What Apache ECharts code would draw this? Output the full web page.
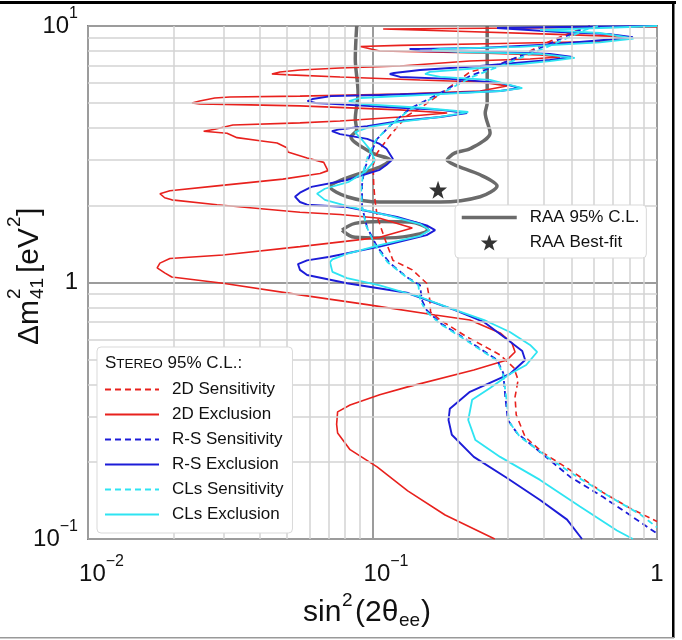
<!DOCTYPE html>
<html>
<head>
<meta charset="utf-8">
<script src="https://cdn.jsdelivr.net/npm/echarts@6/dist/echarts.min.js"></script>
<style>
html, body { margin: 0; padding: 0; background: #fff; }
#chart { width: 682px; height: 640px; }
</style>
</head>
<body>
<div id="chart"></div>
<script>
// minor grid positions (log decades 2..9)
var xMinor = [0.02, 0.03, 0.04, 0.05, 0.06, 0.07, 0.08, 0.09, 0.2, 0.3, 0.4, 0.5, 0.6, 0.7, 0.8, 0.9];
var yMinor = [0.2, 0.3, 0.4, 0.5, 0.6, 0.7, 0.8, 0.9, 2, 3, 4, 5, 6, 7, 8, 9];

// RAA 95% C.L. contour (two pieces) and best fit, [sin^2, dm^2]
var raaOuter = [[0.088,10],[0.087,7.44],[0.089,5.48],[0.087,4.34],[0.088,3.93],[0.084,3.70],[0.0997,3.20],[0.115,3.00],[0.106,2.82],[0.0814,2.56],[0.0709,2.36],[0.0814,2.16],[0.106,2.06],[0.173,2.06],[0.239,2.16],[0.274,2.38],[0.239,2.63],[0.195,2.87],[0.183,3.00],[0.195,3.20],[0.220,3.32],[0.259,3.83],[0.249,4.58],[0.253,5.01],[0.253,7.37],[0.253,10]];
var raaInner = [[0.0782,1.60],[0.0868,1.70],[0.106,1.73],[0.135,1.72],[0.156,1.61],[0.135,1.52],[0.106,1.49],[0.0868,1.50],[0.0782,1.60]];
var raaBest = [[0.17, 2.30]];

// STEREO 95% C.L. curves
var sens2D = [[0.581,10],[0.494,9.39],[0.411,8.63],[0.330,7.64],[0.281,7.11],[0.220,6.62],[0.183,5.68],[0.151,4.88],[0.132,4.46],[0.115,3.73],[0.1038,3.20],[0.1005,2.87],[0.101,2.40],[0.102,2.10],[0.104,1.80],[0.110,1.50],[0.118,1.22],[0.138,1.12],[0.155,0.993],[0.159,0.855],[0.160,0.767],[0.173,0.714],[0.215,0.613],[0.281,0.522],[0.314,0.465],[0.325,0.417],[0.317,0.358],[0.320,0.305],[0.344,0.250],[0.397,0.217],[0.494,0.186],[0.645,0.152],[0.803,0.132],[1.0,0.117]];
var excl2D = [[1.0,9.91],[0.330,9.82],[0.109,9.74],[0.187,9.56],[0.420,9.30],[0.683,9.13],[0.784,8.94],[0.630,8.70],[0.281,8.55],[0.125,8.40],[0.0905,8.32],[0.106,7.99],[0.239,7.85],[0.388,7.71],[0.456,7.57],[0.358,7.44],[0.220,7.30],[0.125,6.98],[0.0769,6.86],[0.0556,6.74],[0.0473,6.62],[0.0443,6.50],[0.0512,6.45],[0.0769,6.33],[0.147,6.16],[0.239,6.05],[0.297,5.84],[0.239,5.58],[0.125,5.43],[0.0556,5.33],[0.0315,5.29],[0.0279,5.24],[0.0247,5.10],[0.0232,5.01],[0.0247,4.97],[0.0556,4.88],[0.125,4.71],[0.183,4.58],[0.125,4.42],[0.0769,4.26],[0.0556,4.19],[0.0323,4.11],[0.0279,3.96],[0.0255,3.89],[0.0308,3.82],[0.0334,3.67],[0.0402,3.57],[0.0462,3.50],[0.0500,3.35],[0.0504,3.23],[0.0589,3.06],[0.0674,2.94],[0.0697,2.73],[0.0654,2.66],[0.0484,2.53],[0.0284,2.38],[0.0194,2.28],[0.0179,2.22],[0.0186,2.14],[0.0197,2.10],[0.0284,2.01],[0.0556,1.88],[0.0769,1.84],[0.106,1.78],[0.138,1.63],[0.106,1.50],[0.0556,1.38],[0.0298,1.28],[0.0194,1.24],[0.0179,1.19],[0.0175,1.14],[0.0186,1.09],[0.0197,1.05],[0.0298,0.993],[0.0556,0.895],[0.0958,0.820],[0.166,0.747],[0.220,0.714],[0.281,0.636],[0.309,0.581],[0.317,0.536],[0.297,0.499],[0.227,0.456],[0.132,0.391],[0.106,0.365],[0.0834,0.333],[0.0754,0.313],[0.0748,0.280],[0.0754,0.259],[0.0834,0.223],[0.1038,0.191],[0.133,0.154],[0.180,0.124],[0.269,0.100]];
var sensRS = [[0.581,10],[0.536,9.65],[0.388,8.21],[0.288,7.18],[0.220,6.38],[0.173,5.48],[0.135,4.75],[0.118,4.19],[0.1038,3.63],[0.0981,3.15],[0.0935,2.75],[0.0919,2.40],[0.0919,1.97],[0.0957,1.64],[0.1038,1.38],[0.115,1.19],[0.132,1.05],[0.147,0.975],[0.149,0.855],[0.155,0.781],[0.173,0.695],[0.215,0.597],[0.274,0.499],[0.288,0.444],[0.293,0.358],[0.299,0.291],[0.322,0.259],[0.379,0.223],[0.494,0.175],[0.645,0.146],[0.803,0.124],[1.0,0.105]];
var exclRS = [[1.0,10],[0.456,9.91],[0.274,9.82],[0.456,9.47],[0.683,9.30],[0.823,9.04],[0.683,8.86],[0.420,8.48],[0.239,8.21],[0.147,8.14],[0.135,8.14],[0.147,7.99],[0.281,7.92],[0.420,7.78],[0.505,7.57],[0.420,7.37],[0.239,6.98],[0.147,6.74],[0.119,6.56],[0.115,6.50],[0.125,6.33],[0.187,6.22],[0.281,6.00],[0.330,5.73],[0.281,5.58],[0.187,5.48],[0.106,5.38],[0.0716,5.33],[0.0615,5.19],[0.0591,5.10],[0.0630,5.01],[0.0716,4.97],[0.125,4.80],[0.173,4.71],[0.215,4.58],[0.173,4.42],[0.125,4.26],[0.0958,4.07],[0.0769,3.96],[0.0720,3.89],[0.0769,3.79],[0.0958,3.63],[0.106,3.47],[0.112,3.32],[0.118,3.03],[0.113,2.90],[0.106,2.75],[0.0814,2.51],[0.0610,2.36],[0.0556,2.24],[0.0534,2.16],[0.0556,2.06],[0.0589,2.01],[0.0814,1.97],[0.122,1.80],[0.155,1.67],[0.166,1.60],[0.155,1.53],[0.106,1.38],[0.0709,1.26],[0.0589,1.22],[0.0547,1.18],[0.0556,1.12],[0.0589,1.07],[0.0814,0.993],[0.132,0.912],[0.195,0.781],[0.247,0.700],[0.293,0.608],[0.336,0.541],[0.344,0.499],[0.304,0.440],[0.220,0.375],[0.187,0.322],[0.185,0.291],[0.190,0.255],[0.227,0.209],[0.297,0.173],[0.388,0.142],[0.483,0.119],[0.545,0.100]];
var sensCLs = [[0.620,10],[0.558,9.65],[0.404,8.21],[0.293,7.11],[0.224,6.33],[0.173,5.43],[0.135,4.71],[0.117,4.15],[0.1029,3.60],[0.0965,3.12],[0.0927,2.70],[0.0913,2.30],[0.0919,1.97],[0.0949,1.67],[0.102,1.40],[0.113,1.20],[0.130,1.06],[0.145,0.975],[0.147,0.855],[0.154,0.774],[0.173,0.689],[0.215,0.592],[0.274,0.495],[0.288,0.436],[0.296,0.349],[0.302,0.286],[0.330,0.250],[0.411,0.209],[0.523,0.175],[0.683,0.146],[0.871,0.125],[1.0,0.111]];
var exclCLs = [[1.0,10],[0.630,9.82],[0.388,9.65],[0.630,9.39],[0.827,8.94],[0.630,8.63],[0.330,8.29],[0.173,8.14],[0.162,8.06],[0.203,7.92],[0.388,7.78],[0.514,7.51],[0.420,7.30],[0.239,6.86],[0.159,6.62],[0.153,6.50],[0.173,6.33],[0.259,6.16],[0.336,5.73],[0.281,5.58],[0.147,5.38],[0.0905,5.24],[0.0826,5.10],[0.0905,4.97],[0.147,4.80],[0.217,4.62],[0.173,4.42],[0.125,4.23],[0.0981,4.04],[0.0868,3.86],[0.0919,3.60],[0.0981,3.29],[0.102,3.00],[0.0942,2.70],[0.0826,2.47],[0.0680,2.32],[0.0638,2.22],[0.0680,2.10],[0.0834,1.97],[0.115,1.82],[0.147,1.69],[0.159,1.60],[0.147,1.52],[0.106,1.40],[0.0826,1.30],[0.0723,1.23],[0.0709,1.20],[0.0723,1.10],[0.0814,1.04],[0.106,0.975],[0.147,0.878],[0.183,0.802],[0.247,0.714],[0.304,0.641],[0.358,0.571],[0.379,0.536],[0.347,0.477],[0.304,0.440],[0.259,0.388],[0.224,0.349],[0.217,0.291],[0.230,0.243],[0.281,0.209],[0.388,0.170],[0.536,0.134],[0.723,0.108],[0.823,0.100]];

var FONT = "'Liberation Sans', Arial, Helvetica, sans-serif";
var RED = '#e8211d', BLUE = '#1c1cd8', CYAN = '#2ee4f2', GRAY = '#6b6b6b';
var STAR = 'path://M0,-10L2.35,-3.24L9.51,-3.09L3.8,1.24L5.88,8.09L0,4L-5.88,8.09L-3.8,1.24L-9.51,-3.09L-2.35,-3.24Z';

function expLabel(v) {
  var e = Math.round(Math.log(v) / Math.LN10);
  if (e === 0) return '{n|1}';
  return '{b|10}{s|' + (e < 0 ? '\u2212' + (-e) : e) + '}';
}

function curve(name, data, color, width, dashed) {
  return {
    type: 'line', name: name, data: data, symbol: 'none', showSymbol: false, z: 3,
    lineStyle: { color: color, width: width, type: dashed ? [6, 4] : 'solid' },
    itemStyle: { color: color }, silent: true
  };
}

// legend entries for line series: line only, no marker
function lineItem(name, width) {
  var it = { name: name, itemStyle: { opacity: 0 } };
  if (width) it.lineStyle = { width: width };
  return it;
}

var myChart = echarts.init(document.getElementById('chart'));

var option = {
  animation: false,
  backgroundColor: '#fff',
  grid: { left: 88, right: 25, top: 26, bottom: 101, show: true, borderColor: '#222', borderWidth: 1.5, backgroundColor: '#fff' },
  xAxis: {
    type: 'log', logBase: 10, min: 0.01, max: 1,
    axisLine: { show: false }, axisTick: { show: false },
    splitLine: { show: true, lineStyle: { color: '#9c9c9c', width: 2 } },
    axisLabel: {
      margin: 15, color: '#111', fontFamily: FONT, formatter: expLabel,
      rich: {
        b: { fontSize: 24, lineHeight: 40, padding: [0, 0, 0, 27], fontFamily: FONT, color: '#111' },
        n: { fontSize: 24, lineHeight: 40, fontFamily: FONT, color: '#111' },
        s: { fontSize: 16, lineHeight: 18, verticalAlign: 'top', fontFamily: FONT, color: '#111' }
      }
    }
  },
  yAxis: {
    type: 'log', logBase: 10, min: 0.1, max: 10,
    axisLine: { show: false }, axisTick: { show: false },
    splitLine: { show: true, lineStyle: { color: '#9c9c9c', width: 2 } },
    axisLabel: {
      margin: 10, color: '#111', fontFamily: FONT, formatter: expLabel,
      rich: {
        b: { fontSize: 24, lineHeight: 40, fontFamily: FONT, color: '#111' },
        n: { fontSize: 24, lineHeight: 40, fontFamily: FONT, color: '#111' },
        s: { fontSize: 16, lineHeight: 18, verticalAlign: 'top', fontFamily: FONT, color: '#111' }
      }
    }
  },
  legend: [{
    data: ['2D Sensitivity', '2D Exclusion', 'R-S Sensitivity', 'R-S Exclusion', 'CLs Sensitivity', 'CLs Exclusion'].map(function (n) { return lineItem(n); }),
    orient: 'vertical', left: 97, top: 347,
    itemWidth: 54, itemHeight: 14, itemGap: 8,
    padding: [34, 9, 10, 7],
    backgroundColor: '#fff', borderColor: '#d9d9d9', borderWidth: 1, borderRadius: 4,
    textStyle: { fontFamily: FONT, fontSize: 17, color: '#111', padding: [0, 0, 0, 8] },
    selectedMode: false, z: 10
  }, {
    data: [lineItem('RAA 95% C.L.', 3.5), { name: 'RAA Best-fit' }],
    orient: 'vertical', left: 455, top: 205,
    itemWidth: 55, itemHeight: 16, itemGap: 8,
    padding: [4, 7, 7, 5],
    backgroundColor: '#fff', borderColor: '#d9d9d9', borderWidth: 1, borderRadius: 4,
    textStyle: { fontFamily: FONT, fontSize: 17, color: '#111', padding: [0, 0, 0, 8] },
    selectedMode: false, z: 10
  }],
  graphic: [
    // outer frame of the figure
    { type: 'rect', shape: { x: 0, y: 1, width: 676, height: 3 }, style: { fill: '#000' }, silent: true },
    { type: 'rect', shape: { x: 672, y: 1, width: 2.5, height: 637 }, style: { fill: '#000' }, silent: true },
    { type: 'rect', shape: { x: 0, y: 637, width: 674, height: 1.5 }, style: { fill: '#999' }, silent: true },
    // legend title (small caps)
    { type: 'text', x: 105, y: 363, z: 100, silent: true,
      style: { text: '{a|S}{b|TEREO}{a| 95% C.L.:}', verticalAlign: 'middle',
        rich: { a: { fontSize: 17, fontFamily: FONT, fill: '#111', verticalAlign: 'bottom' },
                b: { fontSize: 13.5, fontFamily: FONT, fill: '#111', verticalAlign: 'bottom' } } } },
    // x axis name
    { type: 'group', silent: true, children: [
      { type: 'text', x: 303, y: 613, style: { text: 'sin', font: '30px ' + FONT, fill: '#111', verticalAlign: 'middle' } },
      { type: 'text', x: 342, y: 601, style: { text: '2', font: '19px ' + FONT, fill: '#111', verticalAlign: 'middle' } },
      { type: 'text', x: 355, y: 613, style: { text: '(2\u03b8', font: '30px ' + FONT, fill: '#111', verticalAlign: 'middle' } },
      { type: 'text', x: 399, y: 621, style: { text: 'ee', font: '19px ' + FONT, fill: '#111', verticalAlign: 'middle' } },
      { type: 'text', x: 421, y: 613, style: { text: ')', font: '30px ' + FONT, fill: '#111', verticalAlign: 'middle' } }
    ] },
    // y axis name, rotated
    { type: 'group', x: 30, y: 345, rotation: Math.PI / 2, silent: true, children: [
      { type: 'text', x: 0, y: 0, style: { text: '\u0394m', font: '30px ' + FONT, fill: '#111', verticalAlign: 'middle' } },
      { type: 'text', x: 46, y: -15, style: { text: '2', font: '19px ' + FONT, fill: '#111', verticalAlign: 'middle' } },
      { type: 'text', x: 46, y: 8, style: { text: '41', font: '19px ' + FONT, fill: '#111', verticalAlign: 'middle' } },
      { type: 'text', x: 72, y: 0, style: { text: '[eV', font: '30px ' + FONT, fill: '#111', verticalAlign: 'middle' } },
      { type: 'text', x: 118, y: -15, style: { text: '2', font: '19px ' + FONT, fill: '#111', verticalAlign: 'middle' } },
      { type: 'text', x: 129, y: 0, style: { text: ']', font: '30px ' + FONT, fill: '#111', verticalAlign: 'middle' } }
    ] }
  ],
  series: [
    {
      type: 'line', data: [], silent: true, z: 1,
      markLine: {
        silent: true, symbol: ['none', 'none'], label: { show: false }, animation: false,
        lineStyle: { color: '#d3d3d3', width: 1.5, type: 'solid' },
        emphasis: { disabled: true },
        data: xMinor.map(function (v) { return { xAxis: v }; }).concat(yMinor.map(function (v) { return { yAxis: v }; }))
      }
    },
    { type: 'line', name: 'RAA 95% C.L.', data: raaOuter, smooth: 0.3, symbol: 'none', showSymbol: false, z: 2, silent: true,
      lineStyle: { color: GRAY, width: 3.5 }, itemStyle: { color: GRAY } },
    { type: 'line', name: 'RAA 95% C.L.', data: raaInner, smooth: 0.4, symbol: 'none', showSymbol: false, z: 2, silent: true,
      lineStyle: { color: GRAY, width: 3.5 }, itemStyle: { color: GRAY } },
    curve('2D Sensitivity', sens2D, RED, 1.6, true),
    curve('2D Exclusion', excl2D, RED, 1.6, false),
    curve('R-S Sensitivity', sensRS, BLUE, 1.8, true),
    curve('R-S Exclusion', exclRS, BLUE, 1.9, false),
    curve('CLs Sensitivity', sensCLs, CYAN, 1.8, true),
    curve('CLs Exclusion', exclCLs, CYAN, 1.8, false),
    { type: 'scatter', name: 'RAA Best-fit', data: raaBest, symbol: STAR, symbolSize: 18, z: 4, silent: true,
      itemStyle: { color: '#000' } }
  ]
};

myChart.setOption(option);
</script>
</body>
</html>
